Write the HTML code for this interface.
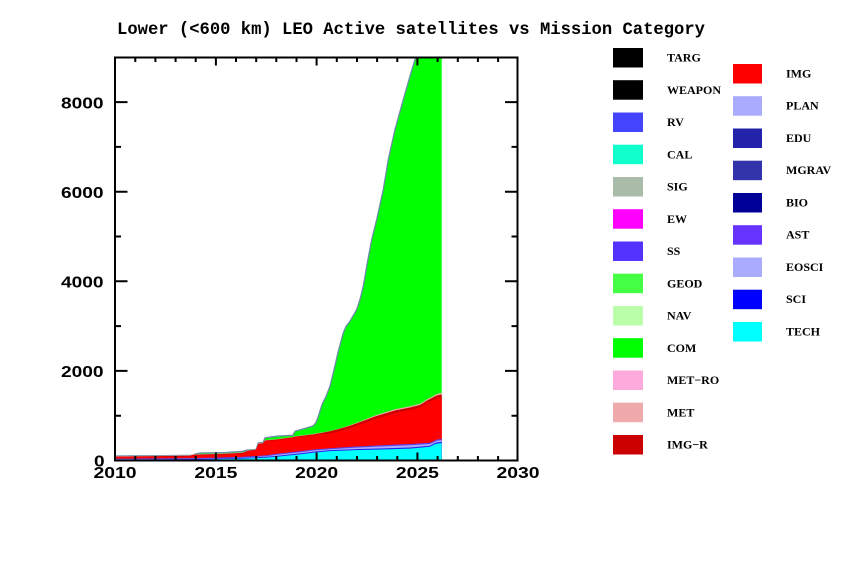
<!DOCTYPE html>
<html>
<head>
<meta charset="utf-8">
<style>
  html, body { margin: 0; padding: 0; background: #ffffff; }
  svg { display: block; }
  .tl { font-family: "Liberation Sans", sans-serif; font-size: 16px; font-weight: bold; fill: #000; }
  .lg { font-family: "Liberation Serif", serif; font-size: 12px; font-weight: bold; fill: #000; }
  .tt { font-family: "Liberation Mono", monospace; font-size: 17.5px; font-weight: bold; fill: #000; }
</style>
</head>
<body>
<svg width="857" height="576" viewBox="0 0 857 576" xmlns="http://www.w3.org/2000/svg">
  <rect x="0" y="0" width="857" height="576" fill="#ffffff"/>

  <!-- Title -->
  <text class="tt" x="117" y="34" textLength="588" lengthAdjust="spacingAndGlyphs">Lower (&lt;600 km) LEO Active satellites vs Mission Category</text>

  <!-- Stacked areas -->
  <!-- total (COM green) -->
  <polygon fill="#00ff00" points="114.7,460.5 114.7,456.5 150,456.3 193,455.8 195,454.5 200,453.5 226,453 243,451.8 246,450.8 256,450 258.3,443.5 263,443 265,438.3 276.7,436.7 293,435.8 295,431.8 313,426.5 316,423 318.3,417 322,405 326,397 330,386.7 333.3,373.3 338.3,351.7 343.3,333.3 346,327 350,321.7 356.7,310 360,300 363.3,286.7 367,265 371.7,240 376.7,220 383.3,190 388.3,160 395,130 403.3,100 410,76.7 415,60 417.3,57.3 441.7,57.3 441.7,460.5"/>
  <polyline fill="none" stroke="#6a8ca6" stroke-width="1.3" points="114.7,456 150,455.8 193,455.3 195,454 200,453 226,452.5 243,451.3 246,450.3 256,449.5 258.3,443 263,442.5 265,437.8 276.7,436.2 293,435.3 295,431.3 313,426 316,422.5 318.3,416.5 322,404.5 326,396.5 330,386.2 333.3,372.8 338.3,351.2 343.3,332.8 346,326.5 350,321.2 356.7,309.5 360,299.5 363.3,286.2 367,264.5 371.7,239.5 376.7,219.5 383.3,189.5 388.3,159.5 395,129.5 403.3,99.5 410,76.2 415,59.5 417.3,57.3"/>

  <!-- MET pink -->
  <polygon fill="#eeaaaa" points="114.7,460.5 114.7,456.2 190,455.4 193,454.4 226,453.4 243,452.4 248,450.4 256,449.4 258.3,443.4 263,442.9 265,440.1 276.7,439.1 293,436.9 295,436.2 313,434 320,432.8 330,431 340,428.4 350,425.3 363.3,420.3 375,415.5 386.7,411.8 395,409.2 400,408.2 410,406.2 420,403.7 424,401.2 428,398.7 433,396.2 436.7,394 441.7,392.7 441.7,460.5"/>
  <!-- IMG-R dark red -->
  <polygon fill="#cc0000" points="114.7,460.5 114.7,456.6 190,455.8 193,454.8 226,453.8 243,452.8 248,450.8 256,449.8 258.3,443.8 263,443.3 265,440.5 276.7,439.5 293,437.3 295,436.6 313,434.5 320,433.2 330,431.2 340,428.7 350,425.8 363.3,421 375,416.5 386.7,413 395,410.5 400,409.5 410,407.5 420,405 424,402.5 428,400 433,397.5 436.7,395.5 441.7,394.5 441.7,460.5"/>
  <!-- IMG red -->
  <polygon fill="#ff0000" points="114.7,460.5 114.7,457.3 190,456.5 193,455.5 226,454.5 243,453.5 248,451.5 256,450.5 258.3,444.5 263,444 265,441.2 276.7,440.2 293,438 295,437.3 313,435.5 320,434.5 330,433.5 340,431 350,428 363.3,423.5 375,419 386.7,415.5 395,413 400,412 410,410 420,407.5 424,405 428,402.5 433,400 436.7,398 441.7,397 441.7,460.5"/>

  <!-- AST purple (blue total) -->
  <polygon fill="#5544ee" points="114.7,460.5 114.7,458.8 200,458 240,457 266.7,455.3 276.7,453.8 300,451.3 313,449.5 330,448.3 340,447.5 356,446.5 386.7,445 410,444 430,442.7 434,441 436.7,439.5 441.7,439 441.7,460.5"/>
  <!-- EOSCI lavender -->
  <polygon fill="#aaaaff" points="114.7,460.5 114.7,459.3 200,458.8 240,457.8 266.7,456.2 276.7,454.8 300,452.3 313,450.5 330,449.3 340,448.6 356,447.6 386.7,446.2 410,445.3 430,444 434,442.3 436.7,440.8 441.7,440.3 441.7,460.5"/>
  <!-- SCI blue -->
  <polygon fill="#2222ee" points="114.7,460.5 114.7,459.6 200,459 240,458 266.7,456.8 276.7,455.9 300,453.4 313,451.8 330,450.1 340,449.8 356,449.1 386.7,448.3 410,447.5 430,445.7 434,443.5 436.7,442.4 441.7,441.9 441.7,460.5"/>
  <!-- TECH cyan -->
  <polygon fill="#00ffff" points="114.7,460.5 114.7,459.9 200,459.5 240,458.7 266.7,457.6 276.7,456.8 300,454.4 313,452.8 330,451.1 340,450.8 356,450.1 386.7,449.4 410,448.6 430,446.8 434,444.6 436.7,443.6 441.7,443.1 441.7,460.5"/>

  <!-- Frame -->
  <rect x="115" y="57.5" width="402.5" height="403" fill="none" stroke="#000" stroke-width="2"/>

  <!-- X ticks -->
  <g stroke="#000" stroke-width="2">
    <!-- minor every year bottom & top -->
    <path d="M135.3,460.5v-4.5 M155.4,460.5v-4.5 M175.6,460.5v-4.5 M195.7,460.5v-4.5 M236,460.5v-4.5 M256.2,460.5v-4.5 M276.3,460.5v-4.5 M296.5,460.5v-4.5 M336.8,460.5v-4.5 M357,460.5v-4.5 M377.1,460.5v-4.5 M397.3,460.5v-4.5 M437.6,460.5v-4.5 M457.8,460.5v-4.5 M477.9,460.5v-4.5 M498.1,460.5v-4.5"/>
    <path d="M135.3,57.5v4.5 M155.4,57.5v4.5 M175.6,57.5v4.5 M195.7,57.5v4.5 M236,57.5v4.5 M256.2,57.5v4.5 M276.3,57.5v4.5 M296.5,57.5v4.5 M336.8,57.5v4.5 M357,57.5v4.5 M377.1,57.5v4.5 M397.3,57.5v4.5 M437.6,57.5v4.5 M457.8,57.5v4.5 M477.9,57.5v4.5 M498.1,57.5v4.5"/>
    <!-- major -->
    <path d="M215.9,460.5v-8 M316.6,460.5v-8 M417.4,460.5v-8 M215.9,57.5v8 M316.6,57.5v8 M417.4,57.5v8"/>
  </g>

  <!-- Y ticks -->
  <g stroke="#000" stroke-width="2">
    <!-- minor (odd thousands) -->
    <path d="M115,415.7h6 M115,326.1h6 M115,236.5h6 M115,146.9h6 M115,57.5h6"/>
    <path d="M517.5,415.7h-6 M517.5,326.1h-6 M517.5,236.5h-6 M517.5,146.9h-6"/>
    <!-- major -->
    <path d="M115,370.9h12.5 M115,281.3h12.5 M115,191.7h12.5 M115,102.1h12.5"/>
    <path d="M517.5,370.9h-12.5 M517.5,281.3h-12.5 M517.5,191.7h-12.5 M517.5,102.1h-12.5"/>
  </g>

  <!-- Y labels -->
  <text class="tl" x="61" y="108.3" textLength="42.5" lengthAdjust="spacingAndGlyphs">8000</text>
  <text class="tl" x="61" y="197.9" textLength="42.5" lengthAdjust="spacingAndGlyphs">6000</text>
  <text class="tl" x="61" y="287.5" textLength="42.5" lengthAdjust="spacingAndGlyphs">4000</text>
  <text class="tl" x="61" y="377.1" textLength="42.5" lengthAdjust="spacingAndGlyphs">2000</text>
  <text class="tl" x="94" y="466.7" textLength="10.6" lengthAdjust="spacingAndGlyphs">0</text>

  <!-- X labels -->
  <text class="tl" x="93.5" y="478" textLength="43" lengthAdjust="spacingAndGlyphs">2010</text>
  <text class="tl" x="194.4" y="478" textLength="43" lengthAdjust="spacingAndGlyphs">2015</text>
  <text class="tl" x="295.1" y="478" textLength="43" lengthAdjust="spacingAndGlyphs">2020</text>
  <text class="tl" x="395.9" y="478" textLength="43" lengthAdjust="spacingAndGlyphs">2025</text>
  <text class="tl" x="496.5" y="478" textLength="43" lengthAdjust="spacingAndGlyphs">2030</text>

  <!-- Legend left column -->
  <g>
    <rect x="613" y="48" width="30" height="19.5" fill="#000000"/>
    <text class="lg" x="667" y="61.7">TARG</text>
    <rect x="613" y="80.2" width="30" height="19.5" fill="#000000"/>
    <text class="lg" x="667" y="93.9">WEAPON</text>
    <rect x="613" y="112.5" width="30" height="19.5" fill="#4444ff"/>
    <text class="lg" x="667" y="126.2">RV</text>
    <rect x="613" y="144.7" width="30" height="19.5" fill="#11ffcc"/>
    <text class="lg" x="667" y="158.4">CAL</text>
    <rect x="613" y="177" width="30" height="19.5" fill="#aabbaa"/>
    <text class="lg" x="667" y="190.7">SIG</text>
    <rect x="613" y="209.2" width="30" height="19.5" fill="#ff00ff"/>
    <text class="lg" x="667" y="222.9">EW</text>
    <rect x="613" y="241.5" width="30" height="19.5" fill="#5533ff"/>
    <text class="lg" x="667" y="255.2">SS</text>
    <rect x="613" y="273.7" width="30" height="19.5" fill="#44ff44"/>
    <text class="lg" x="667" y="287.4">GEOD</text>
    <rect x="613" y="306" width="30" height="19.5" fill="#bbffaa"/>
    <text class="lg" x="667" y="319.7">NAV</text>
    <rect x="613" y="338.2" width="30" height="19.5" fill="#00ff00"/>
    <text class="lg" x="667" y="351.9">COM</text>
    <rect x="613" y="370.5" width="30" height="19.5" fill="#ffaadd"/>
    <text class="lg" x="667" y="384.2">MET−RO</text>
    <rect x="613" y="402.7" width="30" height="19.5" fill="#eeaaaa"/>
    <text class="lg" x="667" y="416.4">MET</text>
    <rect x="613" y="435" width="30" height="19.5" fill="#cc0000"/>
    <text class="lg" x="667" y="448.7">IMG−R</text>
  </g>

  <!-- Legend right column -->
  <g>
    <rect x="733" y="64" width="29" height="19.5" fill="#ff0000"/>
    <text class="lg" x="786" y="77.5">IMG</text>
    <rect x="733" y="96.2" width="29" height="19.5" fill="#aaaaff"/>
    <text class="lg" x="786" y="109.7">PLAN</text>
    <rect x="733" y="128.5" width="29" height="19.5" fill="#2222aa"/>
    <text class="lg" x="786" y="142">EDU</text>
    <rect x="733" y="160.7" width="29" height="19.5" fill="#3333aa"/>
    <text class="lg" x="786" y="174.2">MGRAV</text>
    <rect x="733" y="193" width="29" height="19.5" fill="#000099"/>
    <text class="lg" x="786" y="206.5">BIO</text>
    <rect x="733" y="225.2" width="29" height="19.5" fill="#6633ff"/>
    <text class="lg" x="786" y="238.7">AST</text>
    <rect x="733" y="257.5" width="29" height="19.5" fill="#aaaaff"/>
    <text class="lg" x="786" y="271">EOSCI</text>
    <rect x="733" y="289.7" width="29" height="19.5" fill="#0000ff"/>
    <text class="lg" x="786" y="303.2">SCI</text>
    <rect x="733" y="322" width="29" height="19.5" fill="#00ffff"/>
    <text class="lg" x="786" y="335.5">TECH</text>
  </g>
</svg>
</body>
</html>
